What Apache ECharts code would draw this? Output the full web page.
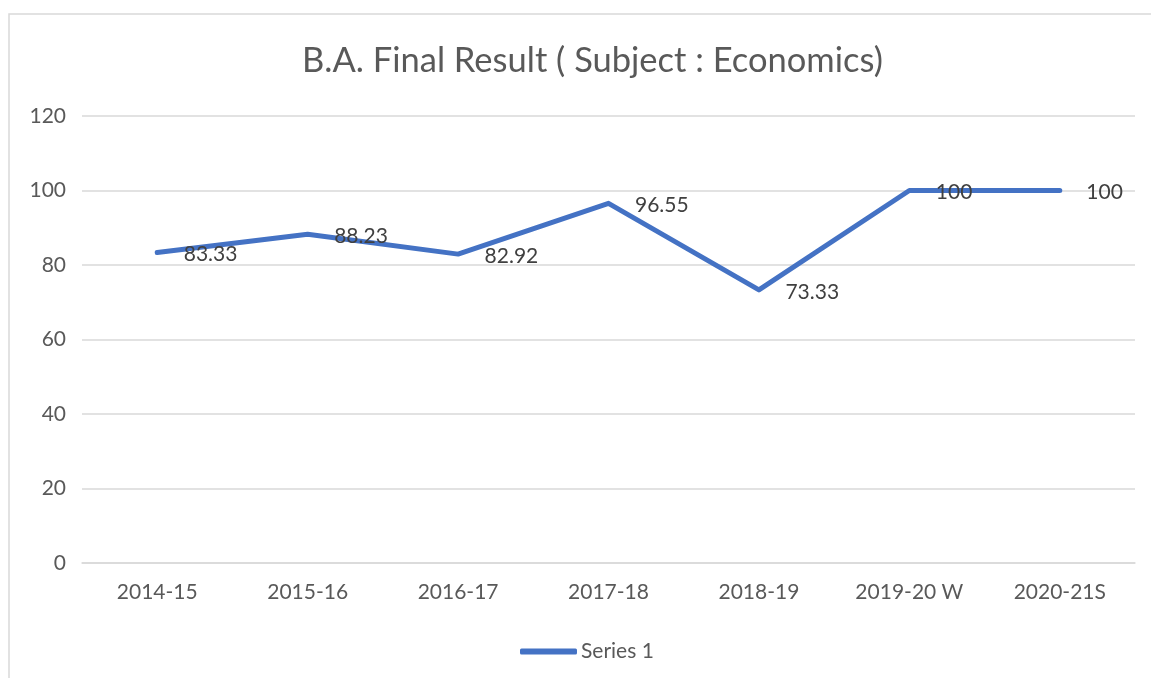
<!DOCTYPE html>
<html>
<head>
<meta charset="utf-8">
<script src="https://cdn.jsdelivr.net/npm/echarts@6/dist/echarts.min.js"></script>
<style>
  html, body { margin: 0; padding: 0; background: #fff; }
  #chart { width: 1151px; height: 678px; }
</style>
</head>
<body>
<div id="chart"></div>
<script>
var years = ["2014-15", "2015-16", "2016-17", "2017-18", "2018-19", "2019-20 W", "2020-21S"];
var series1 = [83.33, 88.23, 82.92, 96.55, 73.33, 100, 100];
var yMin = 0;
var yMax = 120;
var yStep = 20;

var FONT = "Lato";
var chart = echarts.init(document.getElementById("chart"));

var option = {
  backgroundColor: "#fff",
  textStyle: { fontFamily: FONT },
  title: {
    text: "B.A. Final Result ( Subject : Economics)",
    left: 297,
    top: 38,
    textStyle: { fontFamily: FONT, fontSize: 34.5, fontWeight: "normal", color: "#595959" },
  },
  grid: { left: 82, right: 16, top: 116, bottom: 115 },
  legend: {
    left: 515,
    top: 636,
    icon: "roundRect",
    itemWidth: 57,
    itemHeight: 6,
    itemGap: 4,
    textStyle: { fontFamily: FONT, fontSize: 21, color: "#595959", padding: [0, 0, 0, -1] },
    data: ["Series 1"],
  },
  xAxis: {
    type: "category",
    data: years,
    boundaryGap: true,
    axisLine: { lineStyle: { color: "#d9d9d9", width: 1.5 } },
    axisTick: { show: false },
    axisLabel: { fontFamily: FONT, fontSize: 21, color: "#595959", margin: 19 },
  },
  yAxis: {
    type: "value",
    min: yMin,
    max: yMax,
    interval: yStep,
    axisLine: { show: false },
    axisTick: { show: false },
    splitLine: { lineStyle: { color: "#d9d9d9", width: 1.5 } },
    axisLabel: { fontFamily: FONT, fontSize: 21, color: "#595959", margin: 16 },
  },
  series: [
    {
      name: "Series 1",
      type: "line",
      data: series1,
      symbol: "circle",
      symbolSize: 1,
      showSymbol: true,
      lineStyle: { color: "#4472C4", width: 5, cap: "round", join: "round" },
      itemStyle: { color: "#4472C4" },
      label: {
        show: true,
        position: "right",
        distance: 26,
        offset: [0, 2],
        fontFamily: FONT,
        fontSize: 21,
        color: "#404040",
      },
      emphasis: { disabled: true },
    },
  ],
  graphic: [
    {
      type: "rect",
      silent: true,
      shape: { x: 9, y: 14, width: 1200, height: 700 },
      style: { fill: "none", stroke: "#d9d9d9", lineWidth: 1.5 },
    },
  ],
};
chart.setOption(option);
</script>
</body>
</html>
